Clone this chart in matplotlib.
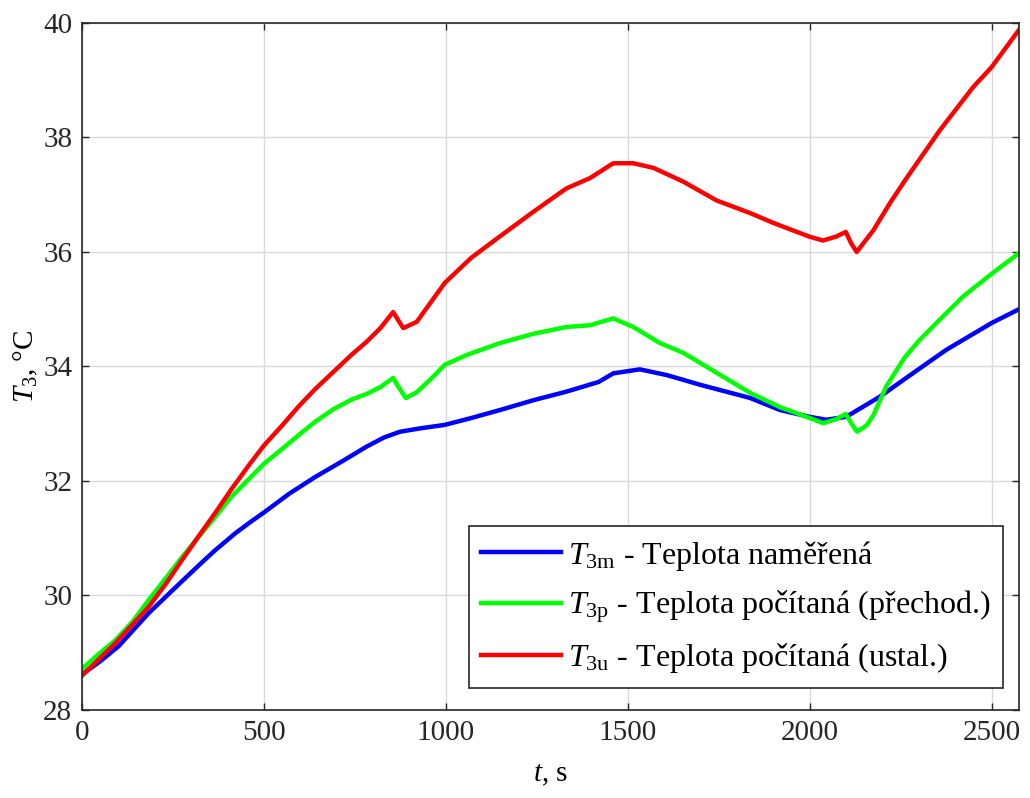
import matplotlib
matplotlib.use("Agg")
import matplotlib.pyplot as plt

# measured temperature T3m
t_m = [0, 50, 100, 183, 275, 330, 366, 420, 460, 500, 570, 641, 714, 782,
       830, 874, 930, 997, 1070, 1149, 1240, 1331, 1420, 1460, 1533, 1607,
       1699, 1836, 1918, 2000, 2045, 2100, 2192, 2283, 2375, 2500, 2575]
T_m = [28.62, 28.85, 29.11, 29.69, 30.25, 30.58, 30.79, 31.08, 31.27, 31.45,
       31.78, 32.07, 32.34, 32.60, 32.76, 32.86, 32.92, 32.98, 33.10, 33.24,
       33.41, 33.56, 33.73, 33.88, 33.95, 33.85, 33.68, 33.45, 33.24, 33.12,
       33.07, 33.12, 33.47, 33.88, 34.29, 34.76, 35.0]

# computed (transient) T3p
t_p = [0, 50, 92, 140, 183, 230, 275, 320, 366, 410, 458, 500, 550, 595, 640,
       690, 740, 782, 820, 855, 872, 890, 920, 965, 997, 1057, 1149, 1240,
       1331, 1396, 1460, 1515, 1588, 1652, 1744, 1836, 1918, 2000, 2036, 2073,
       2099, 2115, 2130, 2156, 2175, 2210, 2260, 2300, 2348, 2421, 2500, 2575]
T_p = [28.72, 29.0, 29.22, 29.55, 29.92, 30.3, 30.67, 31.02, 31.37, 31.72,
       32.03, 32.3, 32.56, 32.80, 33.03, 33.25, 33.42, 33.52, 33.64, 33.80,
       33.62, 33.45, 33.55, 33.82, 34.03, 34.2, 34.41, 34.57, 34.69, 34.72,
       34.84, 34.69, 34.41, 34.24, 33.89, 33.54, 33.29, 33.1, 33.01, 33.08,
       33.17, 33.0, 32.86, 32.97, 33.15, 33.65, 34.15, 34.45, 34.76, 35.22,
       35.62, 35.98]

# computed (steady) T3u
t_u = [0, 92, 183, 230, 275, 320, 366, 410, 458, 500, 550, 595, 640, 690,
       740, 782, 820, 855, 870, 883, 920, 997, 1070, 1148, 1240, 1331, 1396,
       1460, 1515, 1570, 1652, 1744, 1836, 1899, 1998, 2036, 2073, 2099, 2114,
       2129, 2175, 2220, 2266, 2358, 2449, 2500, 2575]
T_u = [28.6, 29.17, 29.8, 30.2, 30.62, 31.03, 31.44, 31.85, 32.27, 32.62,
       32.97, 33.3, 33.6, 33.9, 34.2, 34.43, 34.67, 34.95, 34.8, 34.67, 34.78,
       35.46, 35.9, 36.27, 36.7, 37.11, 37.29, 37.55, 37.55, 37.47, 37.23,
       36.9, 36.68, 36.51, 36.27, 36.2, 36.27, 36.35, 36.15, 36.0, 36.38,
       36.85, 37.29, 38.13, 38.88, 39.23, 39.88]

labels = [r"$T_{\mathrm{3m}}$ - Teplota naměřená",
          r"$T_{\mathrm{3p}}$ - Teplota počítaná (přechod.)",
          r"$T_{\mathrm{3u}}$ - Teplota počítaná (ustal.)"]

plt.rcParams["font.family"] = ["Liberation Serif", "DejaVu Serif"]
plt.rcParams["mathtext.fontset"] = "custom"
plt.rcParams["mathtext.rm"] = "Liberation Serif"
plt.rcParams["mathtext.it"] = "Liberation Serif:italic"

fig = plt.figure(figsize=(10.30, 7.98), dpi=100)
ax = fig.add_axes([0.0796, 0.1103, 0.9097, 0.8609])

ax.plot(t_m, T_m, color=(0, 0, 1), lw=3.2, label=labels[0])
ax.plot(t_p, T_p, color=(0, 1, 0), lw=3.2, label=labels[1])
ax.plot(t_u, T_u, color=(1, 0, 0), lw=3.2, label=labels[2])

ax.set_xlim(0, 2575)
ax.set_ylim(28, 40)
ax.set_xticks([0, 500, 1000, 1500, 2000, 2500])
ax.set_yticks([28, 30, 32, 34, 36, 38, 40])

ax.grid(color=(0.85, 0.85, 0.85), lw=1)
ax.set_axisbelow(True)
ax.tick_params(direction="in", length=5, width=1, labelsize=21,
               top=True, right=True, pad=7, colors=(0.15, 0.15, 0.15))
for s in ax.spines.values():
    s.set_color((0.15, 0.15, 0.15))
    s.set_linewidth(1.2)

ax.set_xlabel(r"$t$, s", fontsize=21, labelpad=12)
ax.set_ylabel(r"$T_3$, °C", fontsize=21, labelpad=2)

leg = ax.legend(loc="lower right", bbox_to_anchor=(0.983, 0.032), fontsize=23,
                handlelength=2.5, fancybox=False, framealpha=1,
                edgecolor=(0.15, 0.15, 0.15), borderaxespad=0,
                labelspacing=0.5, handletextpad=0.2, borderpad=0.4)
leg.get_frame().set_linewidth(1.2)

fig.savefig("out.png", dpi=100)
